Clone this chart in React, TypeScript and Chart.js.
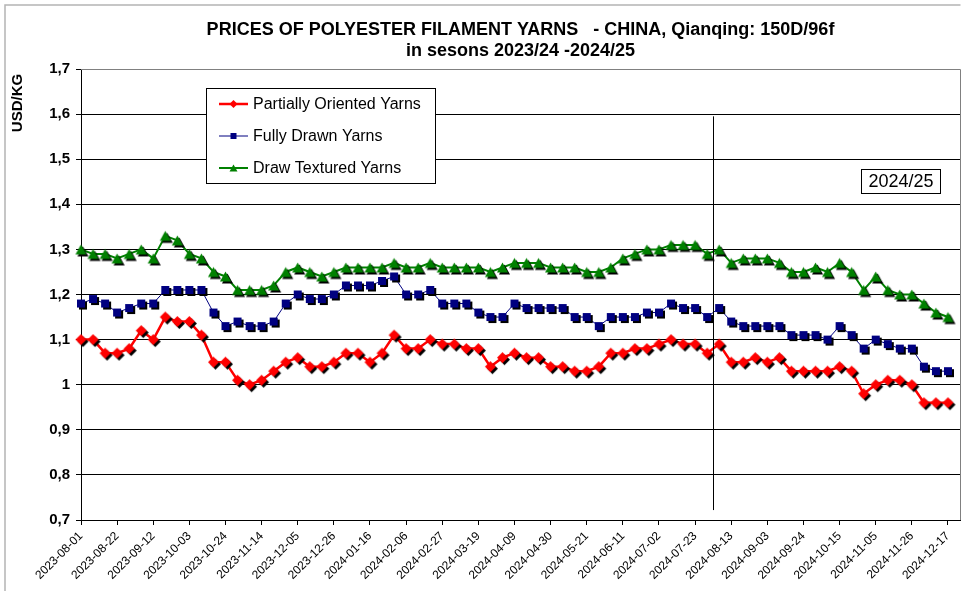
import React, { useEffect, useRef } from 'react';
import { Chart, registerables } from 'chart.js';

Chart.register(...registerables);

const DATES = [
  '2023-08-01', '2023-08-08', '2023-08-15', '2023-08-22', '2023-08-29', '2023-09-05', '2023-09-12', '2023-09-19',
  '2023-09-26', '2023-10-03', '2023-10-10', '2023-10-17', '2023-10-24', '2023-10-31', '2023-11-07', '2023-11-14',
  '2023-11-21', '2023-11-28', '2023-12-05', '2023-12-12', '2023-12-19', '2023-12-26', '2024-01-02', '2024-01-09',
  '2024-01-16', '2024-01-23', '2024-01-30', '2024-02-06', '2024-02-13', '2024-02-20', '2024-02-27', '2024-03-05',
  '2024-03-12', '2024-03-19', '2024-03-26', '2024-04-02', '2024-04-09', '2024-04-16', '2024-04-23', '2024-04-30',
  '2024-05-07', '2024-05-14', '2024-05-21', '2024-05-28', '2024-06-04', '2024-06-11', '2024-06-18', '2024-06-25',
  '2024-07-02', '2024-07-09', '2024-07-16', '2024-07-23', '2024-07-30', '2024-08-06', '2024-08-13', '2024-08-20',
  '2024-08-27', '2024-09-03', '2024-09-10', '2024-09-17', '2024-09-24', '2024-10-01', '2024-10-08', '2024-10-15',
  '2024-10-22', '2024-10-29', '2024-11-05', '2024-11-12', '2024-11-19', '2024-11-26', '2024-12-03', '2024-12-10',
  '2024-12-17',
];
// one trailing empty category, as in the original axis
const CATEGORIES = [...DATES, ''];

const POY = [
  1.10, 1.10, 1.07, 1.07, 1.08, 1.12, 1.10, 1.15, 1.14, 1.14, 1.11, 1.05, 1.05, 1.01, 1.00, 1.01,
  1.03, 1.05, 1.06, 1.04, 1.04, 1.05, 1.07, 1.07, 1.05, 1.07, 1.11, 1.08, 1.08, 1.10, 1.09, 1.09,
  1.08, 1.08, 1.04, 1.06, 1.07, 1.06, 1.06, 1.04, 1.04, 1.03, 1.03, 1.04, 1.07, 1.07, 1.08, 1.08,
  1.09, 1.10, 1.09, 1.09, 1.07, 1.09, 1.05, 1.05, 1.06, 1.05, 1.06, 1.03, 1.03, 1.03, 1.03, 1.04,
  1.03, 0.98, 1.00, 1.01, 1.01, 1.00, 0.96, 0.96, 0.96,
];
const FDY = [
  1.18, 1.19, 1.18, 1.16, 1.17, 1.18, 1.18, 1.21, 1.21, 1.21, 1.21, 1.16, 1.13, 1.14, 1.13, 1.13,
  1.14, 1.18, 1.20, 1.19, 1.19, 1.20, 1.22, 1.22, 1.22, 1.23, 1.24, 1.20, 1.20, 1.21, 1.18, 1.18,
  1.18, 1.16, 1.15, 1.15, 1.18, 1.17, 1.17, 1.17, 1.17, 1.15, 1.15, 1.13, 1.15, 1.15, 1.15, 1.16,
  1.16, 1.18, 1.17, 1.17, 1.15, 1.17, 1.14, 1.13, 1.13, 1.13, 1.13, 1.11, 1.11, 1.11, 1.10, 1.13,
  1.11, 1.08, 1.10, 1.09, 1.08, 1.08, 1.04, 1.03, 1.03,
];
const DTY = [
  1.30, 1.29, 1.29, 1.28, 1.29, 1.30, 1.28, 1.33, 1.32, 1.29, 1.28, 1.25, 1.24, 1.21, 1.21, 1.21,
  1.22, 1.25, 1.26, 1.25, 1.24, 1.25, 1.26, 1.26, 1.26, 1.26, 1.27, 1.26, 1.26, 1.27, 1.26, 1.26,
  1.26, 1.26, 1.25, 1.26, 1.27, 1.27, 1.27, 1.26, 1.26, 1.26, 1.25, 1.25, 1.26, 1.28, 1.29, 1.30,
  1.30, 1.31, 1.31, 1.31, 1.29, 1.30, 1.27, 1.28, 1.28, 1.28, 1.27, 1.25, 1.25, 1.26, 1.25, 1.27,
  1.25, 1.21, 1.24, 1.21, 1.20, 1.20, 1.18, 1.16, 1.15,
];

const SERIES_NAMES = ['Partially Oriented Yarns', 'Fully Drawn Yarns', 'Draw Textured Yarns'];
const TITLE_LINES = ['PRICES OF POLYESTER FILAMENT YARNS   - CHINA, Qianqing: 150D/96f', 'in sesons 2023/24 -2024/25'];
const Y_TITLE = 'USD/KG';
const SEASON_LABEL = '2024/25';
const SEASON_SPLIT = 52.5; // between 2024-07-30 and 2024-08-06
const Y_MIN = 0.7;
const Y_MAX = 1.7;
const Y_STEP = 0.1;

const FONT = '"Liberation Sans", Arial, Helvetica, sans-serif';

type Shape = 'diamond' | 'square' | 'triangle';

function shapePath(ctx: CanvasRenderingContext2D, shape: Shape, cx: number, cy: number, s: number) {
  ctx.beginPath();
  if (shape === 'diamond') {
    const r = s / 2;
    ctx.moveTo(cx, cy - r);
    ctx.lineTo(cx + r, cy);
    ctx.lineTo(cx, cy + r);
    ctx.lineTo(cx - r, cy);
  } else if (shape === 'square') {
    const r = s / 2;
    ctx.rect(cx - r, cy - r, s, s);
  } else {
    const w = s / 2;
    const h = s * 0.45;
    ctx.moveTo(cx, cy - h);
    ctx.lineTo(cx + w, cy + h);
    ctx.lineTo(cx - w, cy + h);
  }
  ctx.closePath();
}

function makeMarker(shape: Shape, color: string, size: number, shadow: number) {
  const c = document.createElement('canvas');
  const w = Math.ceil(size + 2 * shadow + 2);
  c.width = w;
  c.height = w;
  const ctx = c.getContext('2d')!;
  const cx = w / 2;
  if (shadow > 0) {
    ctx.fillStyle = '#000';
    shapePath(ctx, shape, cx + shadow, cx + shadow, size);
    ctx.fill();
  }
  ctx.fillStyle = color;
  shapePath(ctx, shape, cx, cx, size);
  ctx.fill();
  return c;
}

const COLORS = ['#FF0000', '#000080', '#008000'];
const LINE_WIDTHS = [2.5, 1, 2];
const SHAPES: Shape[] = ['diamond', 'square', 'triangle'];
const MARKER_SIZES = [11, 8, 11];
const LEGEND_SIZES = [8, 6, 8];

function fmt(v: number) {
  const r = Math.round(v * 10) / 10;
  return r.toString().replace('.', ',');
}

const decorPlugin = {
  id: 'decor',
  afterDraw(chart: any) {
    const { ctx, chartArea, scales } = chart;
    const x = scales.x;
    const y = scales.y;
    ctx.save();

    // outer chart border
    ctx.strokeStyle = '#b4b4b4';
    ctx.lineWidth = 1.5;
    ctx.beginPath();
    ctx.moveTo(5, 640);
    ctx.lineTo(5, 5);
    ctx.lineTo(960.5, 5);
    ctx.stroke();

    // plot area top/right border
    ctx.strokeStyle = '#808080';
    ctx.lineWidth = 1;
    ctx.beginPath();
    ctx.moveTo(chartArea.left, Math.round(chartArea.top) + 0.5);
    ctx.lineTo(Math.round(chartArea.right) + 0.5, Math.round(chartArea.top) + 0.5);
    ctx.lineTo(Math.round(chartArea.right) + 0.5, chartArea.bottom);
    ctx.stroke();

    // season split line
    const sx = Math.round(x.getPixelForValue(SEASON_SPLIT)) + 0.5;
    ctx.strokeStyle = '#000';
    ctx.lineWidth = 1;
    ctx.beginPath();
    ctx.moveTo(sx, y.getPixelForValue(1.595));
    ctx.lineTo(sx, y.getPixelForValue(0.722));
    ctx.stroke();

    // title
    ctx.fillStyle = '#000';
    ctx.textAlign = 'center';
    ctx.textBaseline = 'middle';
    ctx.font = `bold 18px ${FONT}`;
    const tcx = (chartArea.left + chartArea.right) / 2;
    ctx.fillText(TITLE_LINES[0], tcx, 30);
    ctx.fillText(TITLE_LINES[1], tcx, 51);

    // y title
    ctx.save();
    ctx.translate(18, 103);
    ctx.rotate(-Math.PI / 2);
    ctx.font = `bold 15px ${FONT}`;
    ctx.fillText(Y_TITLE, 0, 0);
    ctx.restore();

    // season label box
    ctx.fillStyle = '#fff';
    ctx.fillRect(861, 169, 79, 24);
    ctx.strokeStyle = '#000';
    ctx.strokeRect(861.5, 169.5, 79, 24);
    ctx.fillStyle = '#000';
    ctx.font = `18px ${FONT}`;
    ctx.fillText(SEASON_LABEL, 901, 182);

    // legend
    const lx = 206.5, ly = 88.5, lw = 229, lh = 95;
    ctx.fillStyle = '#fff';
    ctx.fillRect(lx, ly, lw, lh);
    ctx.strokeStyle = '#000';
    ctx.lineWidth = 1;
    ctx.strokeRect(lx, ly, lw, lh);
    ctx.textAlign = 'left';
    ctx.font = `16px ${FONT}`;
    for (let i = 0; i < SERIES_NAMES.length; i++) {
      const yy = 104 + 32 * i;
      ctx.strokeStyle = COLORS[i];
      ctx.lineWidth = LINE_WIDTHS[i];
      ctx.beginPath();
      ctx.moveTo(219, yy);
      ctx.lineTo(248, yy);
      ctx.stroke();
      ctx.fillStyle = COLORS[i];
      shapePath(ctx, SHAPES[i], 233.5, yy, LEGEND_SIZES[i]);
      ctx.fill();
      ctx.fillStyle = '#000';
      ctx.fillText(SERIES_NAMES[i], 253, yy + 1);
    }
    ctx.restore();
  },
};

export default function App() {
  const ref = useRef<HTMLCanvasElement | null>(null);

  useEffect(() => {
    document.body.style.margin = '0';
    const canvas = ref.current!;
    const series = [POY, FDY, DTY];
    const chart = new Chart(canvas, {
      type: 'line',
      data: {
        labels: CATEGORIES,
        datasets: series.map((d, i) => ({
          label: SERIES_NAMES[i],
          data: d,
          borderColor: COLORS[i],
          backgroundColor: COLORS[i],
          borderWidth: LINE_WIDTHS[i],
          tension: 0,
          fill: false,
          pointStyle: makeMarker(SHAPES[i], COLORS[i], MARKER_SIZES[i], 2) as any,
          pointRadius: 5,
          pointHoverRadius: 5,
        })),
      },
      options: {
        animation: false,
        responsive: false,
        maintainAspectRatio: false,
        events: [],
        layout: { padding: { left: 0, top: 69, right: 12, bottom: 0 } },
        plugins: {
          legend: { display: false },
          title: { display: false },
          tooltip: { enabled: false },
        },
        scales: {
          x: {
            type: 'category',
            offset: false,
            grid: {
              display: true,
              drawOnChartArea: false,
              drawTicks: true,
              tickLength: 5,
              color: '#000',
              tickColor: '#000',
              lineWidth: 1,
            },
            border: { color: '#000', width: 1 },
            ticks: {
              autoSkip: false,
              minRotation: 45,
              maxRotation: 45,
              padding: 4,
              color: '#000',
              font: { family: FONT, size: 12 },
            },
            afterBuildTicks: (s: any) => {
              s.ticks = s.ticks.filter((t: any) => t.value % 3 === 0 && t.value < DATES.length);
            },
            afterFit: (s: any) => {
              s.height = 71;
            },
          },
          y: {
            min: Y_MIN,
            max: Y_MAX,
            grid: {
              color: (c: any) => (c.tick && c.tick.value >= Y_MAX - 1e-6 ? '#808080' : '#000'),
              tickColor: '#000',
              tickLength: 5,
              lineWidth: 1,
            },
            border: { color: '#000', width: 1 },
            ticks: {
              stepSize: Y_STEP,
              padding: 6,
              color: '#000',
              font: { family: FONT, size: 15, weight: 'bold' },
              callback: (v: any) => fmt(Number(v)),
            },
            afterFit: (s: any) => {
              s.width = 81;
            },
          },
        },
      },
      plugins: [decorPlugin],
    });
    return () => chart.destroy();
  }, []);

  return <canvas ref={ref} width={972} height={591} style={{ display: 'block', width: 972, height: 591 }} />;
}
